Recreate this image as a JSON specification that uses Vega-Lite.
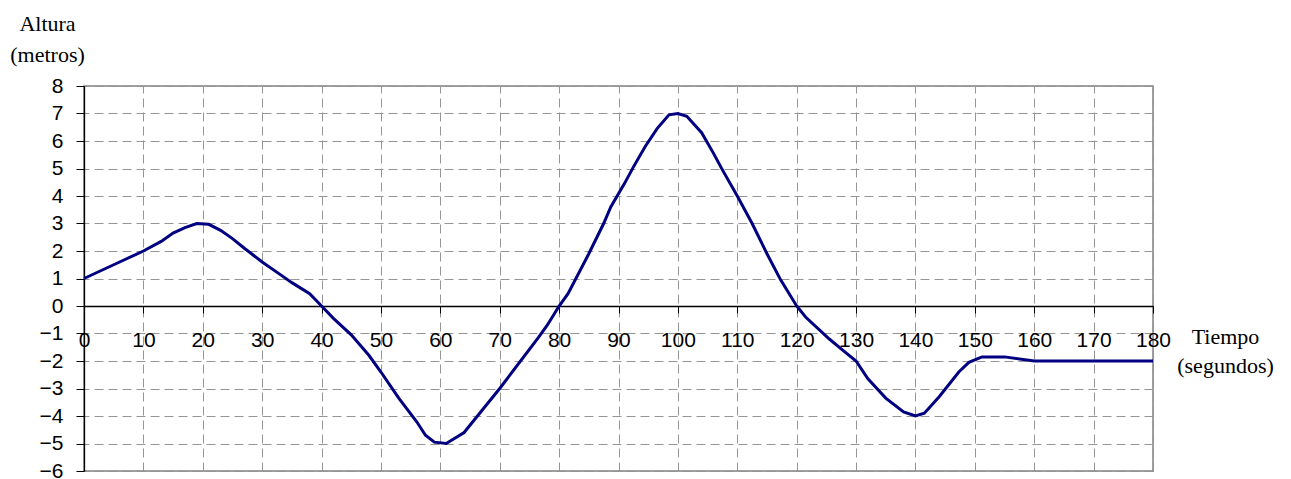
{
  "$schema": "https://vega.github.io/schema/vega-lite/v6.json",
  "width": 1069,
  "height": 385,
  "autosize": {"type": "none"},
  "padding": {"left": 84, "top": 86, "right": 138, "bottom": 8},
  "background": "white",
  "config": {
    "view": {"stroke": "#808080", "strokeWidth": 1.5},
    "axis": {"gridColor": "#959595", "gridDash": [9, 5], "gridWidth": 1}
  },
  "data": {
    "values": [
      {"t": 0, "h": 1}, {"t": 5, "h": 1.5}, {"t": 10, "h": 2}, {"t": 13, "h": 2.35},
      {"t": 15, "h": 2.65}, {"t": 17, "h": 2.85}, {"t": 19, "h": 3}, {"t": 21, "h": 2.97},
      {"t": 23, "h": 2.75}, {"t": 25, "h": 2.45}, {"t": 27, "h": 2.1}, {"t": 30, "h": 1.6},
      {"t": 33, "h": 1.15}, {"t": 35, "h": 0.85}, {"t": 38, "h": 0.45}, {"t": 40, "h": 0},
      {"t": 42, "h": -0.45}, {"t": 45, "h": -1.05}, {"t": 48, "h": -1.8}, {"t": 50, "h": -2.4},
      {"t": 53, "h": -3.35}, {"t": 56, "h": -4.2}, {"t": 57.5, "h": -4.7}, {"t": 59, "h": -4.95},
      {"t": 61, "h": -5}, {"t": 64, "h": -4.6}, {"t": 67, "h": -3.8}, {"t": 70, "h": -3},
      {"t": 76.5, "h": -1.15}, {"t": 78, "h": -0.7}, {"t": 80, "h": 0}, {"t": 81.5, "h": 0.45},
      {"t": 85, "h": 1.9}, {"t": 87.5, "h": 3}, {"t": 88.7, "h": 3.6}, {"t": 91, "h": 4.45},
      {"t": 92.5, "h": 5.05}, {"t": 94.5, "h": 5.8}, {"t": 96.5, "h": 6.45}, {"t": 98.5, "h": 6.95},
      {"t": 100, "h": 7}, {"t": 101.5, "h": 6.9}, {"t": 104, "h": 6.3}, {"t": 106, "h": 5.55},
      {"t": 107.5, "h": 4.95}, {"t": 110, "h": 4}, {"t": 112.5, "h": 3}, {"t": 115, "h": 1.9},
      {"t": 117.3, "h": 0.95}, {"t": 120, "h": 0}, {"t": 121.5, "h": -0.4}, {"t": 125.5, "h": -1.2},
      {"t": 128, "h": -1.65}, {"t": 130, "h": -2}, {"t": 132, "h": -2.65}, {"t": 135, "h": -3.35},
      {"t": 138, "h": -3.85}, {"t": 140, "h": -4}, {"t": 141.5, "h": -3.9}, {"t": 144, "h": -3.3},
      {"t": 147.3, "h": -2.4}, {"t": 149, "h": -2.05}, {"t": 151.2, "h": -1.85}, {"t": 155, "h": -1.85},
      {"t": 160, "h": -2}, {"t": 180, "h": -2}
    ]
  },
  "resolve": {"axis": {"x": "independent", "y": "independent"}},
  "layer": [
    {
      "mark": {"type": "line", "opacity": 0},
      "encoding": {
        "x": {
          "field": "t", "type": "quantitative",
          "scale": {"domain": [0, 180], "nice": false},
          "axis": {"orient": "top", "grid": true, "domain": false, "ticks": false, "labels": false, "title": null, "values": [0,10,20,30,40,50,60,70,80,90,100,110,120,130,140,150,160,170,180]}
        },
        "y": {
          "field": "h", "type": "quantitative",
          "scale": {"domain": [-6, 8], "nice": false},
          "axis": {"orient": "right", "grid": true, "domain": false, "ticks": false, "labels": false, "title": null, "values": [-6,-5,-4,-3,-2,-1,0,1,2,3,4,5,6,7,8]}
        }
      }
    },
    {
      "mark": {"type": "line", "color": "#000080", "strokeWidth": 3},
      "encoding": {
        "x": {
          "field": "t", "type": "quantitative",
          "scale": {"domain": [0, 180], "nice": false},
          "axis": {
            "orient": "bottom", "offset": -165, "grid": false,
            "values": [0,10,20,30,40,50,60,70,80,90,100,110,120,130,140,150,160,170,180],
            "domainColor": "#000000", "domainWidth": 1.3,
            "tickColor": "#000000", "tickSize": 7, "tickWidth": 1,
            "labelFont": "Liberation Sans", "labelFontSize": 21, "labelColor": "#000000",
            "labelPadding": 16, "labelFlush": false, "labelOverlap": false, "labelBound": false,
            "title": ["Tiempo", "(segundos)"],
            "titleFont": "Liberation Serif", "titleFontSize": 22, "titleFontWeight": "normal",
            "titleColor": "#000000", "titleAngle": 0, "titleAlign": "center",
            "titleBaseline": "alphabetic", "titleLineHeight": 29,
            "titleX": 1141, "titleY": 37
          }
        },
        "y": {
          "field": "h", "type": "quantitative",
          "scale": {"domain": [-6, 8], "nice": false},
          "axis": {
            "orient": "left", "grid": false,
            "values": [-6,-5,-4,-3,-2,-1,0,1,2,3,4,5,6,7,8],
            "domainColor": "#000000", "domainWidth": 1.3,
            "tickColor": "#000000", "tickSize": 8, "tickWidth": 1,
            "labelFont": "Liberation Sans", "labelFontSize": 21, "labelColor": "#000000",
            "labelPadding": 13, "labelFlush": false, "labelOverlap": false, "labelBound": false,
            "title": ["Altura", "(metros)"],
            "titleFont": "Liberation Serif", "titleFontSize": 22, "titleFontWeight": "normal",
            "titleColor": "#000000", "titleAngle": 0, "titleAlign": "center",
            "titleBaseline": "alphabetic", "titleLineHeight": 31,
            "titleX": -37, "titleY": -56
          }
        }
      }
    }
  ]
}
